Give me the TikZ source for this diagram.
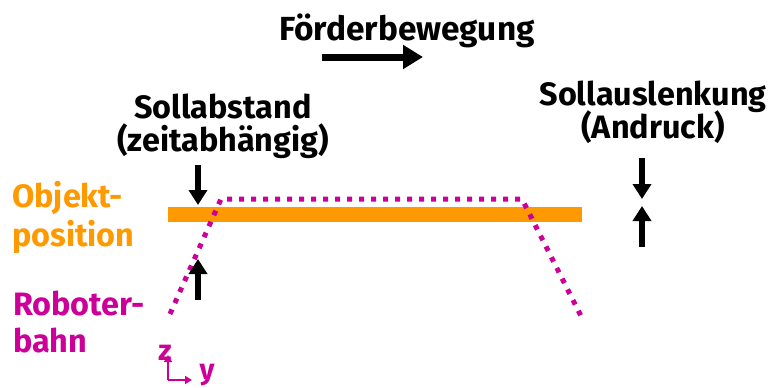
\documentclass[tikz,border=0pt]{standalone}
\usepackage{fontspec}
\setmainfont{Fira Sans}
\usetikzlibrary{arrows.meta}

\definecolor{objorange}{RGB}{255,153,0}
\definecolor{robmagenta}{RGB}{204,0,153}

\begin{document}
\begin{tikzpicture}[x=1bp, y=1bp,
        lbl/.style={font=\fontsize{32.5}{34}\selectfont\bfseries, inner sep=0pt, align=center},
        axlbl/.style={font=\fontsize{29}{30}\selectfont\bfseries, inner sep=0pt, robmagenta},
        push/.style={line width=6bp, -{Triangle[length=15bp, width=18bp]}},
        axis/.style={robmagenta, line width=2bp, -{Triangle[length=7bp, width=8bp]}}]

        \useasboundingbox (0,0) rectangle (770,387);

        % Objektposition
        \fill[objorange] (168,165) rectangle (582,180);

        % Roboterbahn
        \draw[robmagenta, line width=5bp, dash pattern=on 5bp off 7bp]
            (170,73) -- (221,188) -- (522,188) -- (581,71);

        % Foerderbewegung
        \node[lbl, font=\fontsize{33.5}{34}\selectfont\bfseries, anchor=base] (foerder) at (407,347) {Förderbewegung};
        \coordinate (foerderA) at (322,330);
        \coordinate (foerderB) at (423,330);
        \draw[line width=7bp, -{Triangle[length=20bp, width=23bp]}]
            (foerderA) -- (foerderB);

        % Sollabstand
        \node[lbl, anchor=base] (abstand) at (223,236) {Sollabstand\\[-1bp](zeitabhängig)};
        \coordinate (abstandA) at (198,222);
        \coordinate (abstandB) at (198,182);
        \coordinate (abstandC) at (198,87);
        \coordinate (abstandD) at (198,128);
        \draw[push] (abstandA) -- (abstandB);
        \draw[push] (abstandC) -- (abstandD);

        % Sollauslenkung
        \node[lbl, anchor=base] (auslenk) at (653,249) {Sollauslenkung\\[-3bp](Andruck)};
        \coordinate (auslenkA) at (642,229);
        \coordinate (auslenkB) at (642,188);
        \coordinate (auslenkC) at (642,140);
        \coordinate (auslenkD) at (642,181);
        \draw[push] (auslenkA) -- (auslenkB);
        \draw[push] (auslenkC) -- (auslenkD);

        % Legende links
        \node[lbl, objorange, anchor=base west, align=left] (objekt) at (12,141) {Objekt-\\[5bp]position};
        \node[lbl, robmagenta, anchor=base west, align=left] (roboter) at (13,35) {Roboter-\\[3bp]bahn};

        % Koordinaten
        \coordinate (ursprung) at (168,7);
        \draw[axis] (ursprung) -- ++(0,25);
        \draw[axis] (ursprung) -- ++(24,0);
        \node[axlbl, anchor=base] (zachse) at (165,27) {z};
        \node[axlbl, anchor=base] (yachse) at (207,7.5) {y};

\end{tikzpicture}
\end{document}
